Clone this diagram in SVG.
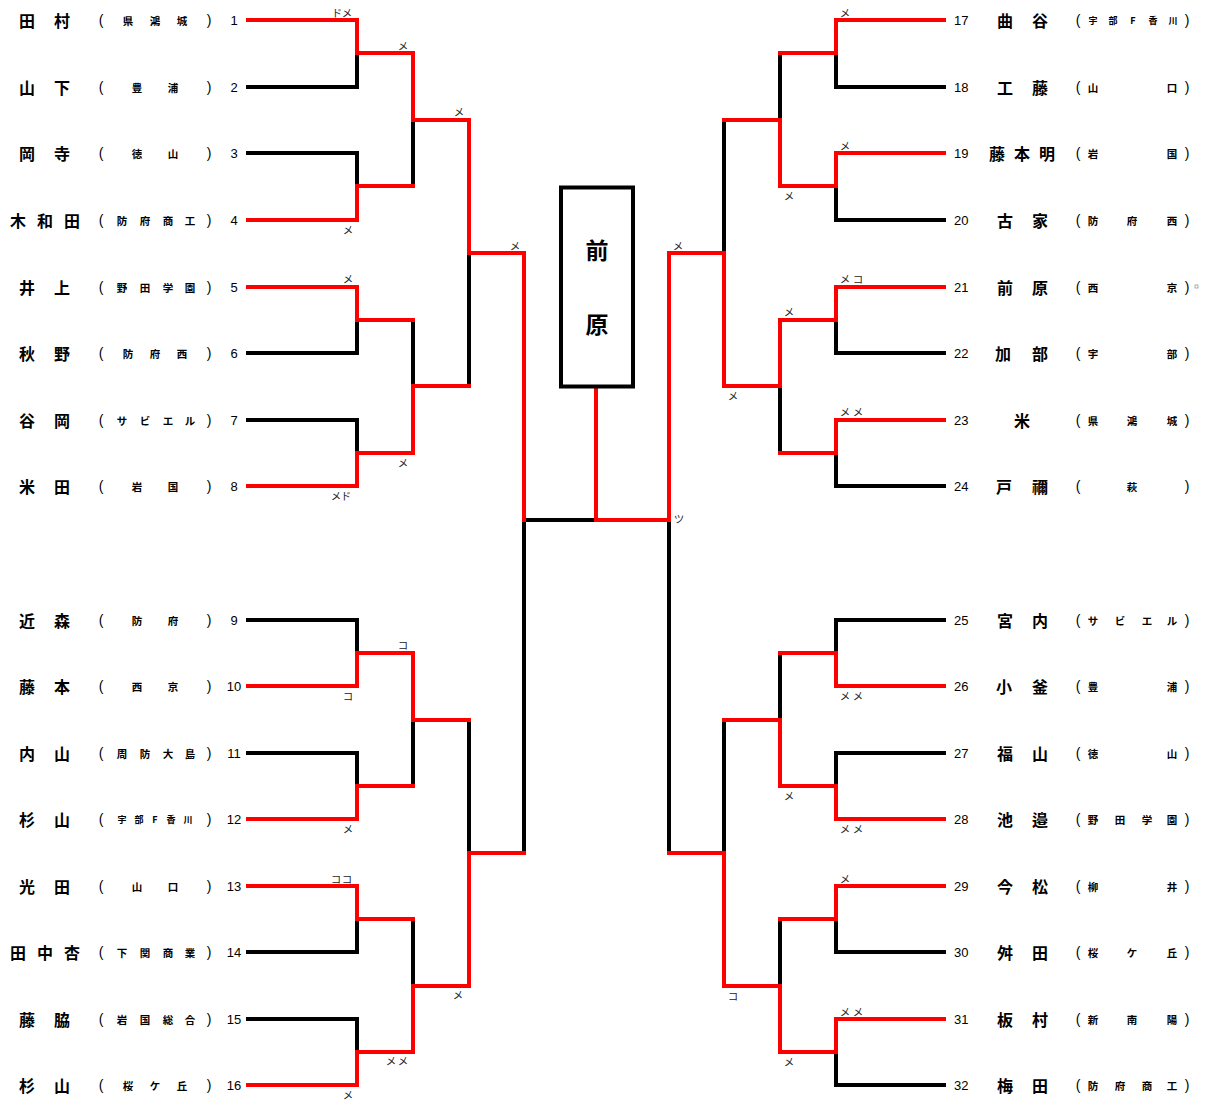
<svg xmlns="http://www.w3.org/2000/svg" width="1207" height="1102" viewBox="0 0 1207 1102">
<style>
text{dominant-baseline:central;text-anchor:middle;fill:#000}
.n{font-family:"Noto Sans CJK JP",sans-serif;font-size:16px;font-weight:700}
.s{font-family:"Noto Sans CJK JP",sans-serif;font-size:10.5px;font-weight:700}
.p{font-family:"Liberation Sans",sans-serif;font-size:14px}
.d{font-family:"Liberation Sans",sans-serif;font-size:13px}
.dr{text-anchor:start}
.l{font-family:"Noto Sans CJK JP",sans-serif;font-size:10.5px;fill:#222}
.w{font-family:"Noto Sans CJK JP",sans-serif;font-size:23px;font-weight:700}
.k{fill:none;stroke:#000;stroke-width:4;stroke-linecap:square;stroke-linejoin:miter}
.r{fill:none;stroke:#f00;stroke-width:4;stroke-linecap:square;stroke-linejoin:miter}
</style>
<rect width="1207" height="1102" fill="#fff"/>
<g id="connectors">
<path class="k" d="M248 87H357M248 153H357M248 353H357M248 420H357M248 620H357M248 753H357M248 952H357M248 1019H357M357 53V87M357 153V186M357 320V353M357 420V453M357 620V653M357 753V786M357 919V952M357 1019V1052M413 120V186M413 320V386M413 720V786M413 919V986M469 253V386M469 720V853M524 853V520H596"/>
<path class="k" d="M944 87H836M944 220H836M944 353H836M944 486H836M944 620H836M944 753H836M944 952H836M944 1085H836M836 53V87M836 186V220M836 320V353M836 453V486M836 620V653M836 753V786M836 919V952M836 1052V1085M780 53V120M780 386V453M780 653V720M780 919V986M724 120V253M724 720V853M669 520V853"/>
<path class="r" d="M248 20H357V53H413M248 220H357V186H413M248 287H357V320H413M248 486H357V453H413M248 686H357V653H413M248 819H357V786H413M248 886H357V919H413M248 1085H357V1052H413M413 53V120H469M413 453V386H469M413 653V720H469M413 1052V986H469M469 120V253H524M469 986V853H524M524 253V520"/>
<path class="r" d="M944 20H836V53H780M944 153H836V186H780M944 287H836V320H780M944 420H836V453H780M944 686H836V653H780M944 819H836V786H780M944 886H836V919H780M944 1019H836V1052H780M780 186V120H724M780 320V386H724M780 786V720H724M780 1052V986H724M724 386V253H669M724 986V853H669M669 253V520H596V389"/>
</g>
<g id="champion">
<rect x="561" y="187.5" width="72" height="199" fill="#fff" stroke="#000" stroke-width="4"/>
<text class="w" x="597" y="249">前</text>
<text class="w" x="597" y="323">原</text>
</g>
<g id="scores">
<text class="l" x="337 347" y="12">ドメ</text>
<text class="l" x="403" y="45">メ</text>
<text class="l" x="459" y="111">メ</text>
<text class="l" x="348" y="229">メ</text>
<text class="l" x="515" y="245">メ</text>
<text class="l" x="348" y="278">メ</text>
<text class="l" x="403" y="462">メ</text>
<text class="l" x="336 346" y="495">メド</text>
<text class="l" x="403" y="644">コ</text>
<text class="l" x="348" y="695">コ</text>
<text class="l" x="348" y="828">メ</text>
<text class="l" x="336 347" y="878">ココ</text>
<text class="l" x="458" y="994">メ</text>
<text class="l" x="391 403" y="1060">メメ</text>
<text class="l" x="348" y="1094">メ</text>
<text class="l" x="845" y="12">メ</text>
<text class="l" x="845" y="145">メ</text>
<text class="l" x="789" y="195">メ</text>
<text class="l" x="678" y="245">メ</text>
<text class="l" x="845 858" y="278">メコ</text>
<text class="l" x="789" y="311">メ</text>
<text class="l" x="733" y="395">メ</text>
<text class="l" x="845 858" y="411">メメ</text>
<text class="l" x="679" y="518">ツ</text>
<text class="l" x="845 858" y="695">メメ</text>
<text class="l" x="789" y="795">メ</text>
<text class="l" x="845 858" y="828">メメ</text>
<text class="l" x="845" y="878">メ</text>
<text class="l" x="733" y="995">コ</text>
<text class="l" x="845 858" y="1011">メメ</text>
<text class="l" x="789" y="1061">メ</text>
</g>
<g id="p1"><text class="n" x="27 62" y="20">田村</text><text class="p" x="101" y="20">(</text><text class="s" x="128 155 182" y="20">県鴻城</text><text class="p" x="209" y="20">)</text><text class="d" x="234" y="20">1</text></g>
<g id="p2"><text class="n" x="27 62" y="87">山下</text><text class="p" x="101" y="87">(</text><text class="s" x="137 173" y="87">豊浦</text><text class="p" x="209" y="87">)</text><text class="d" x="234" y="87">2</text></g>
<g id="p3"><text class="n" x="27 62" y="153">岡寺</text><text class="p" x="101" y="153">(</text><text class="s" x="137 173" y="153">徳山</text><text class="p" x="209" y="153">)</text><text class="d" x="234" y="153">3</text></g>
<g id="p4"><text class="n" x="18 45 72" y="220">木和田</text><text class="p" x="101" y="220">(</text><text class="s" x="122 145 168 190" y="220">防府商工</text><text class="p" x="209" y="220">)</text><text class="d" x="234" y="220">4</text></g>
<g id="p5"><text class="n" x="27 62" y="287">井上</text><text class="p" x="101" y="287">(</text><text class="s" x="122 145 168 190" y="287">野田学園</text><text class="p" x="209" y="287">)</text><text class="d" x="234" y="287">5</text></g>
<g id="p6"><text class="n" x="27 62" y="353">秋野</text><text class="p" x="101" y="353">(</text><text class="s" x="128 155 182" y="353">防府西</text><text class="p" x="209" y="353">)</text><text class="d" x="234" y="353">6</text></g>
<g id="p7"><text class="n" x="27 62" y="420">谷岡</text><text class="p" x="101" y="420">(</text><text class="s" x="122 145 168 190" y="420">サビエル</text><text class="p" x="209" y="420">)</text><text class="d" x="234" y="420">7</text></g>
<g id="p8"><text class="n" x="27 62" y="486">米田</text><text class="p" x="101" y="486">(</text><text class="s" x="137 173" y="486">岩国</text><text class="p" x="209" y="486">)</text><text class="d" x="234" y="486">8</text></g>
<g id="p9"><text class="n" x="27 62" y="620">近森</text><text class="p" x="101" y="620">(</text><text class="s" x="137 173" y="620">防府</text><text class="p" x="209" y="620">)</text><text class="d" x="234" y="620">9</text></g>
<g id="p10"><text class="n" x="27 62" y="686">藤本</text><text class="p" x="101" y="686">(</text><text class="s" x="137 173" y="686">西京</text><text class="p" x="209" y="686">)</text><text class="d" x="234" y="686">10</text></g>
<g id="p11"><text class="n" x="27 62" y="753">内山</text><text class="p" x="101" y="753">(</text><text class="s" x="122 145 168 190" y="753">周防大島</text><text class="p" x="209" y="753">)</text><text class="d" x="234" y="753">11</text></g>
<g id="p12"><text class="n" x="27 62" y="819">杉山</text><text class="p" x="101" y="819">(</text><text class="s" x="122 139 155 171 188" y="819" style="font-size:9px">宇部F香川</text><text class="p" x="209" y="819">)</text><text class="d" x="234" y="819">12</text></g>
<g id="p13"><text class="n" x="27 62" y="886">光田</text><text class="p" x="101" y="886">(</text><text class="s" x="137 173" y="886">山口</text><text class="p" x="209" y="886">)</text><text class="d" x="234" y="886">13</text></g>
<g id="p14"><text class="n" x="18 45 72" y="952">田中杏</text><text class="p" x="101" y="952">(</text><text class="s" x="122 145 168 190" y="952">下関商業</text><text class="p" x="209" y="952">)</text><text class="d" x="234" y="952">14</text></g>
<g id="p15"><text class="n" x="27 62" y="1019">藤脇</text><text class="p" x="101" y="1019">(</text><text class="s" x="122 145 168 190" y="1019">岩国総合</text><text class="p" x="209" y="1019">)</text><text class="d" x="234" y="1019">15</text></g>
<g id="p16"><text class="n" x="27 62" y="1085">杉山</text><text class="p" x="101" y="1085">(</text><text class="s" x="128 155 182" y="1085">桜ケ丘</text><text class="p" x="209" y="1085">)</text><text class="d" x="234" y="1085">16</text></g>
<g id="p17"><text class="d dr" x="954" y="20">17</text><text class="n" x="1005 1040" y="20">曲谷</text><text class="p" x="1078" y="20">(</text><text class="s" x="1093 1113 1133 1153 1173" y="20" style="font-size:9px">宇部F香川</text><text class="p" x="1187" y="20">)</text></g>
<g id="p18"><text class="d dr" x="954" y="87">18</text><text class="n" x="1005 1040" y="87">工藤</text><text class="p" x="1078" y="87">(</text><text class="s" x="1093 1172" y="87">山口</text><text class="p" x="1187" y="87">)</text></g>
<g id="p19"><text class="d dr" x="954" y="153">19</text><text class="n" x="997 1022 1047" y="153">藤本明</text><text class="p" x="1078" y="153">(</text><text class="s" x="1093 1172" y="153">岩国</text><text class="p" x="1187" y="153">)</text></g>
<g id="p20"><text class="d dr" x="954" y="220">20</text><text class="n" x="1005 1040" y="220">古家</text><text class="p" x="1078" y="220">(</text><text class="s" x="1093 1132 1172" y="220">防府西</text><text class="p" x="1187" y="220">)</text></g>
<g id="p21"><text class="d dr" x="954" y="287">21</text><text class="n" x="1005 1040" y="287">前原</text><text class="p" x="1078" y="287">(</text><text class="s" x="1093 1172" y="287">西京</text><text class="p" x="1187" y="287">)</text><rect x="1195" y="285" width="3" height="3" fill="none" stroke="#999" stroke-width="0.8"/></g>
<g id="p22"><text class="d dr" x="954" y="353">22</text><text class="n" x="1003 1040" y="353">加部</text><text class="p" x="1078" y="353">(</text><text class="s" x="1093 1172" y="353">宇部</text><text class="p" x="1187" y="353">)</text></g>
<g id="p23"><text class="d dr" x="954" y="420">23</text><text class="n" x="1022" y="420">米</text><text class="p" x="1078" y="420">(</text><text class="s" x="1093 1132 1172" y="420">県鴻城</text><text class="p" x="1187" y="420">)</text></g>
<g id="p24"><text class="d dr" x="954" y="486">24</text><text class="n" x="1004 1040" y="486">戸禰</text><text class="p" x="1078" y="486">(</text><text class="s" x="1132" y="486">萩</text><text class="p" x="1187" y="486">)</text></g>
<g id="p25"><text class="d dr" x="954" y="620">25</text><text class="n" x="1005 1040" y="620">宮内</text><text class="p" x="1078" y="620">(</text><text class="s" x="1093 1120 1147 1172" y="620">サビエル</text><text class="p" x="1187" y="620">)</text></g>
<g id="p26"><text class="d dr" x="954" y="686">26</text><text class="n" x="1004 1040" y="686">小釜</text><text class="p" x="1078" y="686">(</text><text class="s" x="1093 1172" y="686">豊浦</text><text class="p" x="1187" y="686">)</text></g>
<g id="p27"><text class="d dr" x="954" y="753">27</text><text class="n" x="1005 1040" y="753">福山</text><text class="p" x="1078" y="753">(</text><text class="s" x="1093 1172" y="753">徳山</text><text class="p" x="1187" y="753">)</text></g>
<g id="p28"><text class="d dr" x="954" y="819">28</text><text class="n" x="1005 1040" y="819">池邉</text><text class="p" x="1078" y="819">(</text><text class="s" x="1093 1120 1147 1172" y="819">野田学園</text><text class="p" x="1187" y="819">)</text></g>
<g id="p29"><text class="d dr" x="954" y="886">29</text><text class="n" x="1005 1040" y="886">今松</text><text class="p" x="1078" y="886">(</text><text class="s" x="1093 1172" y="886">柳井</text><text class="p" x="1187" y="886">)</text></g>
<g id="p30"><text class="d dr" x="954" y="952">30</text><text class="n" x="1005 1040" y="952">舛田</text><text class="p" x="1078" y="952">(</text><text class="s" x="1093 1132 1172" y="952">桜ケ丘</text><text class="p" x="1187" y="952">)</text></g>
<g id="p31"><text class="d dr" x="954" y="1019">31</text><text class="n" x="1005 1040" y="1019">板村</text><text class="p" x="1078" y="1019">(</text><text class="s" x="1093 1132 1172" y="1019">新南陽</text><text class="p" x="1187" y="1019">)</text></g>
<g id="p32"><text class="d dr" x="954" y="1085">32</text><text class="n" x="1005 1040" y="1085">梅田</text><text class="p" x="1078" y="1085">(</text><text class="s" x="1093 1120 1147 1172" y="1085">防府商工</text><text class="p" x="1187" y="1085">)</text></g>
</svg>
